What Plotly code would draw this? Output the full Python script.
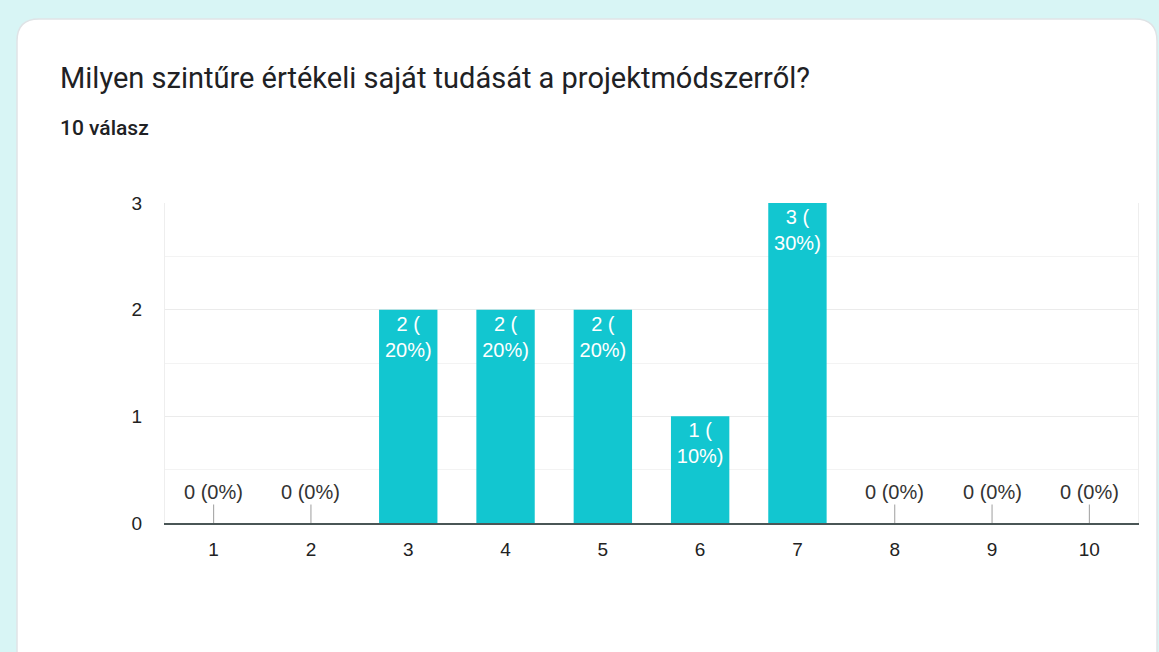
import plotly.graph_objects as go

categories = ["1", "2", "3", "4", "5", "6", "7", "8", "9", "10"]
counts = [0, 0, 2, 2, 2, 1, 3, 0, 0, 0]
total = 10
title_text = "Milyen szintűre értékeli saját tudását a projektmódszerről?"
subtitle_text = "10 válasz"
y_ticks = [0, 1, 2, 3]

percents = [round(c * 100 / total) for c in counts]
labels = [f"{c} (<br>{p}%)" for c, p in zip(counts, percents)]

W, H = 1159, 652
L, R, T, B = 165, 1138, 203, 523
pw, ph = R - L, B - T

def px(x):
    return (x - L) / pw

def py(y):
    return (B - y) / ph

bar_color = "#12c6d0"
FONT = "Arial, 'Liberation Sans', sans-serif"

fig = go.Figure()
fig.add_trace(go.Bar(
    x=categories,
    y=counts,
    marker=dict(color=bar_color, line=dict(width=0)),
    text=[lab if c > 0 else "" for lab, c in zip(labels, counts)],
    texttemplate="%{text}",
    textposition="inside",
    insidetextanchor="end",
    textangle=0,
    insidetextfont=dict(color="white", size=20, family=FONT),
    hoverinfo="skip",
    showlegend=False,
))

annotations = []
for i, (c, p) in enumerate(zip(counts, percents)):
    if c == 0:
        annotations.append(dict(
            x=i, y=0, xref="x", yref="y",
            text=f"{c} ({p}%)",
            showarrow=True, arrowhead=0, arrowwidth=1, arrowcolor="#9e9e9e",
            ax=0, ay=-31,
            font=dict(size=20, color="#333333", family=FONT),
        ))

annotations.append(dict(
    x=px(58), y=py(78), xref="paper", yref="paper",
    xanchor="left", yanchor="middle", showarrow=False,
    text=title_text,
    font=dict(size=29, color="#202124", family="Roboto, Arial, sans-serif"),
))
annotations.append(dict(
    x=px(58), y=py(128), xref="paper", yref="paper",
    xanchor="left", yanchor="middle", showarrow=False,
    text=subtitle_text,
    font=dict(size=21, color="#202124", family="Roboto, Arial, sans-serif", weight=500),
))

# card background with rounded corners
x0, y0, x1, y1, r = px(17), py(19), px(1157), py(700), 22
rx, ry = r / pw, r / ph
card_path = (
    f"M {x0},{y1} L {x0},{y0 - ry} Q {x0},{y0} {x0 + rx},{y0} "
    f"L {x1 - rx},{y0} Q {x1},{y0} {x1},{y0 - ry} L {x1},{y1} Z"
)
shapes = [dict(
    type="path", path=card_path, xref="paper", yref="paper",
    fillcolor="white", line=dict(color="#dfe3e6", width=1.5), layer="below",
)]

fig.update_layout(
    width=W, height=H,
    margin=dict(l=L, r=W - R, t=T, b=H - B, pad=0),
    paper_bgcolor="#d8f5f5",
    plot_bgcolor="rgba(0,0,0,0)",
    bargap=0.4,
    font=dict(family=FONT, color="#444444", size=19),
    annotations=annotations,
    shapes=shapes,
    xaxis=dict(
        type="category",
        showgrid=False,
        showline=True, linecolor="#4a5656", linewidth=1.5,
        ticks="outside", ticklen=8, tickcolor="rgba(0,0,0,0)",
        tickfont=dict(size=19, color="#222222"),
        fixedrange=True,
    ),
    yaxis=dict(
        range=[0, 3],
        tickvals=y_ticks,
        showgrid=True, gridcolor="#ebebeb", gridwidth=1,
        minor=dict(dtick=0.5, showgrid=True, gridcolor="#f3f3f3", gridwidth=1),
        zeroline=False,
        showline=True, linecolor="#eeeeee", linewidth=1, mirror=True,
        ticks="outside", ticklen=18, tickcolor="rgba(0,0,0,0)",
        tickfont=dict(size=19, color="#222222"),
        fixedrange=True,
    ),
)

fig.write_html(
    "out.html",
    config={"displayModeBar": False},
    post_script="document.body.style.margin='0';document.body.style.padding='0';",
)
